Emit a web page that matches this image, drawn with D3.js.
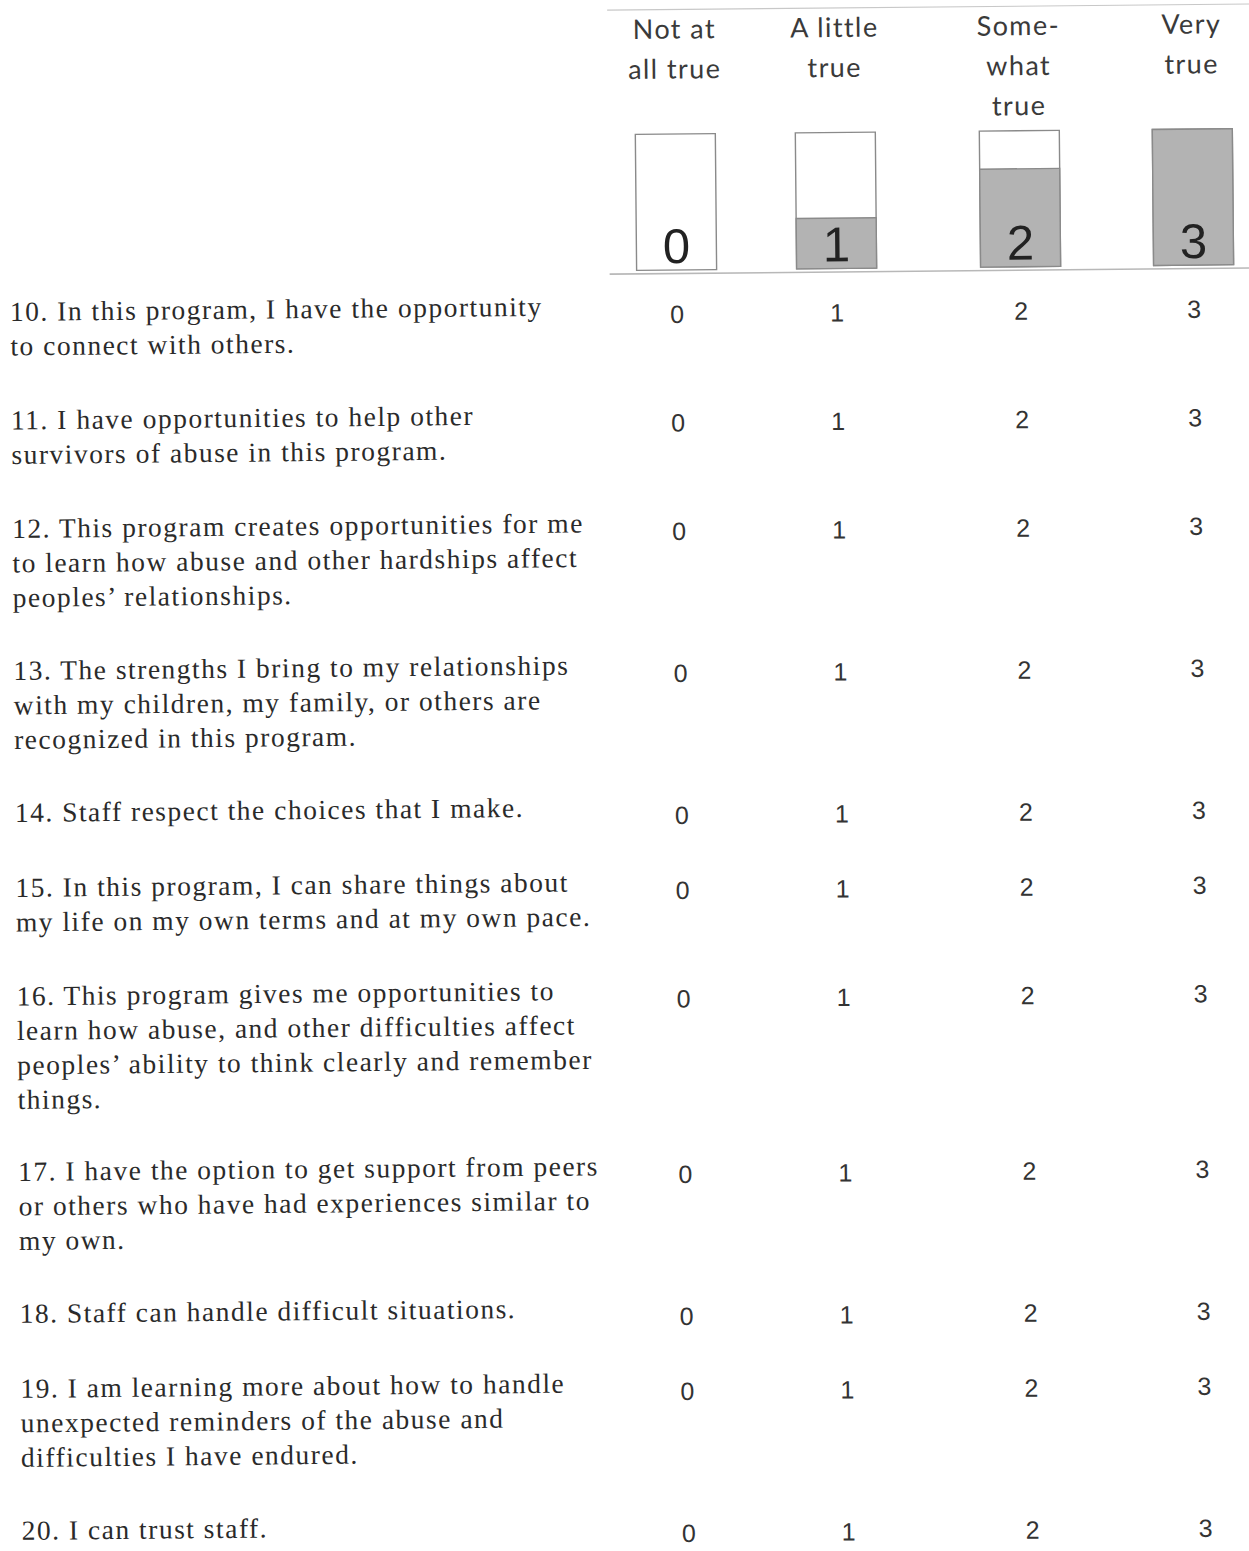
<!DOCTYPE html>
<html>
<head>
<meta charset="utf-8">
<script src="https://cdnjs.cloudflare.com/ajax/libs/d3/7.8.5/d3.min.js"></script>
<style>
  html, body { margin: 0; padding: 0; background: #fff; }
  svg { display: block; }
</style>
</head>
<body>
<div id="chart"></div>
<script>
// ---------------- data ----------------
const scaleValues = [0, 1, 2, 3];
const scaleLabels = [["Not at", "all true"], ["A little", "true"], ["Some-", "what", "true"], ["Very", "true"]];
const iconFill = [0, 0.37, 0.72, 1.0];   // filled share of each response icon
const questionIds = ["10", "11", "12", "13", "14", "15", "16", "17", "18", "19", "20"];
const questionLines = [
  ["10. In this program, I have the opportunity", "to connect with others."],
  ["11. I have opportunities to help other", "survivors of abuse in this program."],
  ["12. This program creates opportunities for me", "to learn how abuse and other hardships affect", "peoples\u2019 relationships."],
  ["13. The strengths I bring to my relationships", "with my children, my family, or others are", "recognized in this program."],
  ["14. Staff respect the choices that I make."],
  ["15. In this program, I can share things about", "my life on my own terms and at my own pace."],
  ["16. This program gives me opportunities to", "learn how abuse, and other difficulties affect", "peoples\u2019 ability to think clearly and remember", "things."],
  ["17. I have the option to get support from peers", "or others who have had experiences similar to", "my own."],
  ["18. Staff can handle difficult situations."],
  ["19. I am learning more about how to handle", "unexpected reminders of the abuse and", "difficulties I have endured."],
  ["20. I can trust staff."]
];

// ---------------- layout ----------------
const W = 1249, H = 1551;
const skew = -0.55;             // scanned page is slightly rotated
const colCenters = [674, 834, 1018, 1191];
const textX = 7;
const firstBaseline = 321;
const lineHeight = 34.5;
const rowStepPerLine = 33.5, rowStepExtra = 41.5;
const numOffset = 8.5;

const svg = d3.select("#chart").append("svg")
  .attr("width", W).attr("height", H)
  .style("background", "#fff");

const g = svg.append("g").attr("transform", `rotate(${skew})`);

const x = d3.scaleOrdinal().domain(scaleValues).range(colCenters);

// header rules
const ruleX = d3.scaleLinear().domain([0, 1]).range([607, 1262]);
g.append("line").attr("x1", ruleX(0)).attr("x2", ruleX(1)).attr("y1", 16).attr("y2", 16)
  .attr("stroke", "#c8c8c8").attr("stroke-width", 1.2);
g.append("line").attr("x1", ruleX(0)).attr("x2", ruleX(1)).attr("y1", 280).attr("y2", 280)
  .attr("stroke", "#b8b8b8").attr("stroke-width", 1.6);

// header labels
const headFont = "Lato, 'Open Sans', sans-serif";
scaleValues.forEach((v, i) => {
  const t = g.append("text")
    .attr("x", x(v)).attr("y", 45)
    .attr("text-anchor", "middle")
    .attr("font-family", headFont)
    .attr("font-size", 27)
    .attr("letter-spacing", 1.4)
    .attr("fill", "#3a3a3a");
  scaleLabels[i].forEach((ln, k) => {
    t.append("tspan").attr("x", x(v)).attr("y", 45 + k * 40).text(ln);
  });
});

// response icons
const boxW = 80, boxTop = 140.5, boxBottom = 276.5;
const fillY = d3.scaleLinear().domain([0, 1]).range([boxBottom, boxTop]);
const icons = g.selectAll("g.icon").data(scaleValues).join("g").attr("class", "icon");
icons.append("rect")
  .attr("x", d => x(d) - boxW / 2).attr("y", boxTop)
  .attr("width", boxW).attr("height", boxBottom - boxTop)
  .attr("fill", "#fff").attr("stroke", "#8a8a8a").attr("stroke-width", 1.4);
icons.append("rect")
  .attr("x", d => x(d) - boxW / 2).attr("y", (d, i) => fillY(iconFill[i]))
  .attr("width", boxW).attr("height", (d, i) => boxBottom - fillY(iconFill[i]))
  .attr("fill", "#b3b3b3").attr("stroke", "#8a8a8a").attr("stroke-width", 1.4);
icons.append("text")
  .attr("x", d => x(d)).attr("y", 269.5)
  .attr("text-anchor", "middle")
  .attr("font-family", "'Liberation Sans', Arial, sans-serif")
  .attr("font-size", 49)
  .attr("fill", "#222")
  .text(d => d);

// question rows
let yCur = firstBaseline;
const rowY = questionLines.map(lines => {
  const y = yCur;
  yCur += lines.length * rowStepPerLine + rowStepExtra;
  return y;
});

const rows = g.selectAll("g.row").data(questionIds).join("g").attr("class", "row");
rows.append("text")
  .attr("x", textX)
  .attr("font-family", "'Liberation Serif', 'Times New Roman', serif")
  .attr("font-size", 27.5)
  .attr("letter-spacing", 1.5)
  .attr("fill", "#2a2a2a")
  .each(function(d, i) {
    const t = d3.select(this);
    questionLines[i].forEach((ln, k) => {
      t.append("tspan").attr("x", textX).attr("y", rowY[i] + k * lineHeight).text(ln);
    });
  });

rows.each(function(d, i) {
  d3.select(this).selectAll("text.num").data(scaleValues).join("text")
    .attr("class", "num")
    .attr("x", v => x(v))
    .attr("y", rowY[i] + numOffset)
    .attr("text-anchor", "middle")
    .attr("font-family", "'Liberation Sans', Arial, sans-serif")
    .attr("font-size", 25)
    .attr("fill", "#333")
    .text(v => v);
});
</script>
</body>
</html>
